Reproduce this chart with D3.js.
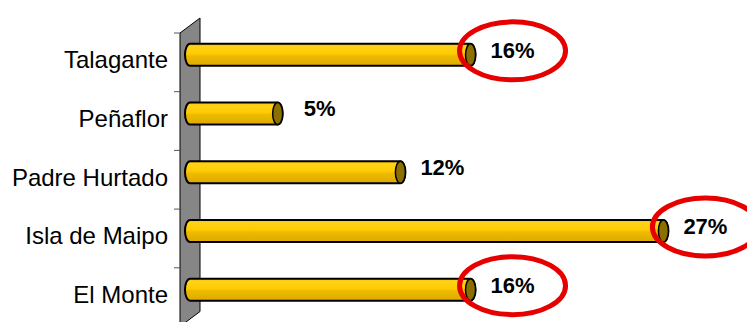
<!DOCTYPE html>
<html><head><meta charset="utf-8">
<script src="https://cdn.jsdelivr.net/npm/d3@7"></script>
<style>body{margin:0;background:#fff} svg{display:block}</style>
</head><body>
<svg id="c" width="747" height="322"></svg>
<script>
const categories = ["Talagante", "Peñaflor", "Padre Hurtado", "Isla de Maipo", "El Monte"];
const values = [16, 5, 12, 27, 16];
const valueLabels = ["16%", "5%", "12%", "27%", "16%"];
const highlighted = ["Talagante", "Isla de Maipo", "El Monte"];

const svg = d3.select("#c");
const FONT = "'Liberation Sans', Arial, sans-serif";
const depth = {dx: 20, dy: -15};
const half = {dx: depth.dx / 2, dy: depth.dy / 2};

const x = d3.scaleLinear().domain([0, 30]).range([180, 706]);
const y = d3.scaleBand().domain(categories).range([33, 326.5]).padding(0);

const defs = svg.append("defs");
const g = defs.append("linearGradient").attr("id", "barGrad")
  .attr("x1", 0).attr("y1", 0).attr("x2", 0).attr("y2", 1);
[[0, "#F2C200"], [0.12, "#FFD21A"], [0.45, "#FFCC00"], [0.55, "#EDBA00"], [1, "#DDAA00"]]
  .forEach(([o, c]) => g.append("stop").attr("offset", o).attr("stop-color", c));

// side wall (value 0 plane)
const [r0, r1] = y.range();
const x0 = x(0);
svg.append("polygon")
  .attr("points", [[x0, r0], [x0 + depth.dx, r0 + depth.dy], [x0 + depth.dx, r1 + depth.dy], [x0, r1]].map(p => p.join(",")).join(" "))
  .attr("fill", "#868686").attr("stroke", "#000").attr("stroke-width", 1);

// ticks at band boundaries
const bounds = categories.map(c => y(c));
svg.selectAll("line.tick").data(bounds).join("line")
  .attr("x1", x0 - 6).attr("x2", x0).attr("y1", d => d).attr("y2", d => d)
  .attr("stroke", "#555").attr("stroke-width", 1);

// category labels
svg.selectAll("text.cat").data(categories).join("text")
  .attr("x", 168).attr("y", d => y(d) + y.bandwidth() / 2 + 6)
  .attr("text-anchor", "end").attr("font-family", FONT).attr("font-size", 24)
  .attr("fill", "#000").text(d => d);

// bars (cylinders)
const barH = 22, rr = barH / 2, capRx = 5;
const rows = categories.map((c, i) => ({
  c, v: values[i], label: valueLabels[i],
  cy: y(c) + y.bandwidth() / 2 + half.dy,
  xs: x(0) + half.dx,
  xe: x(values[i]) + half.dx
}));

const bars = svg.selectAll("g.bar").data(rows).join("g");
bars.append("path")
  .attr("d", d => `M${d.xs},${d.cy - rr} L${d.xe},${d.cy - rr} A${capRx},${rr} 0 0 1 ${d.xe},${d.cy + rr} L${d.xs},${d.cy + rr} A${capRx},${rr} 0 0 1 ${d.xs},${d.cy - rr} Z`)
  .attr("fill", "url(#barGrad)").attr("stroke", "#000").attr("stroke-width", 2);
bars.append("ellipse")
  .attr("cx", d => d.xe).attr("cy", d => d.cy).attr("rx", capRx).attr("ry", rr)
  .attr("fill", "#8B7000").attr("stroke", "#000").attr("stroke-width", 1.5);

// value labels
const lx = d => d.xe + 42, ly = d => d.cy - 5;
svg.selectAll("text.val").data(rows).join("text")
  .attr("x", lx).attr("y", ly).attr("dy", "0.36em")
  .attr("text-anchor", "middle").attr("font-family", FONT).attr("font-weight", "bold")
  .attr("font-size", 22).attr("fill", "#000").text(d => d.label);

// red highlight ellipses
svg.selectAll("ellipse.hl").data(rows.filter(d => highlighted.includes(d.c))).join("ellipse")
  .attr("cx", lx).attr("cy", d => ly(d) + 1).attr("rx", 53).attr("ry", 29)
  .attr("fill", "none").attr("stroke", "#E60000").attr("stroke-width", 5);
</script>
</body></html>
